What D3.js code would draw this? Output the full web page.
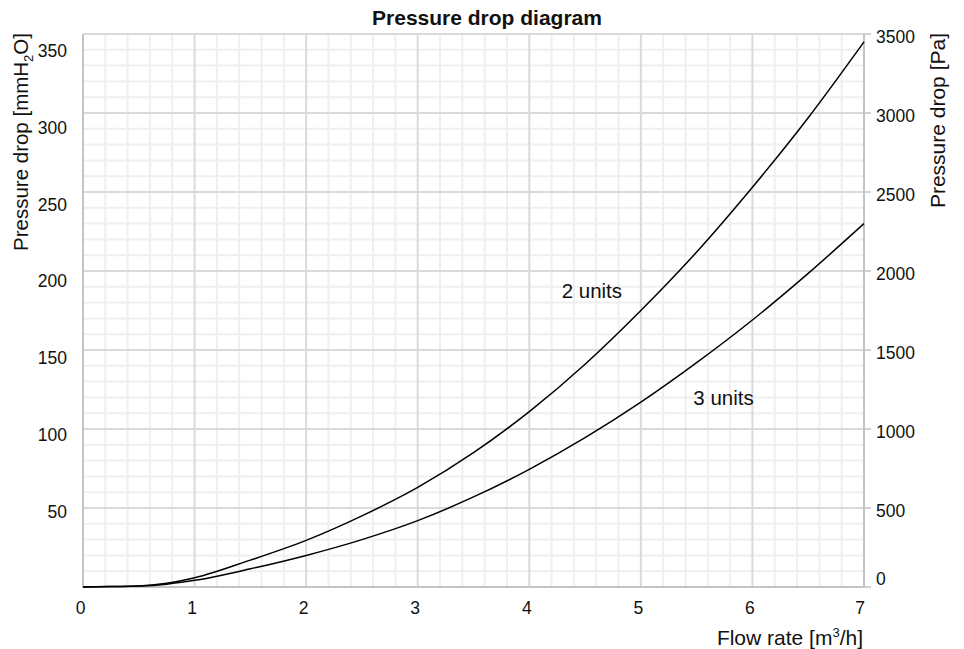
<!DOCTYPE html>
<html>
<head>
<meta charset="utf-8">
<script src="https://cdn.jsdelivr.net/npm/d3@7"></script>
<style>
  body { margin: 0; background: #fff; }
  text { font-family: "Liberation Sans", Arial, sans-serif; fill: #111; }
</style>
</head>
<body>
<svg id="chart" width="964" height="649"></svg>
<script>
// flow rate [m3/h]
const flow = [0, 0.25, 0.5, 0.75, 1, 1.5, 2, 2.5, 3, 3.5, 4, 4.5, 5, 5.5, 6, 6.5, 7];
// pressure drop [mmH2O]
const twoUnits = [0, 0.3, 0.6, 2.3, 5.8, 17, 29.5, 45, 63, 85, 111, 141, 175, 212, 253, 297, 345];
const threeUnits = [0, 0.3, 0.6, 1.8, 4.2, 11.5, 20, 30, 42, 57, 74.5, 94.5, 117, 142, 169, 198.5, 230];

const xTicks = [0, 1, 2, 3, 4, 5, 6, 7];
const mmTicks = [50, 100, 150, 200, 250, 300, 350];
const paTicks = [0, 500, 1000, 1500, 2000, 2500, 3000, 3500];

const seriesLabels = [
  { name: "2 units", x: 4.29, y: 183 },
  { name: "3 units", x: 5.47, y: 115.5 }
];

const svg = d3.select("#chart");

const x = d3.scaleLinear().domain([0, 7]).range([83, 864]);
const y = d3.scaleLinear().domain([0, 350]).range([587, 34]);
const yPa = d3.scaleLinear().domain([0, 3500]).range([587, 34]);
// the left labels sit a bit off their gridlines in the original
const yLabel = d3.scaleLinear().domain([0, 350]).range([588.5, 50.7]);

// grid: minor every 0.2 m3/h and 10 mmH2O, major every 1 and 50
const grid = svg.append("g");
grid.selectAll(".vminor")
  .data(d3.range(0, 7.01, 0.2).filter(v => Math.abs(v - Math.round(v)) > 0.01))
  .enter().append("line")
  .attr("x1", d => x(d)).attr("x2", d => x(d))
  .attr("y1", y(0)).attr("y2", y(350))
  .attr("stroke", "#efefef").attr("stroke-width", 2);
grid.selectAll(".hminor")
  .data(d3.range(10, 350, 10).filter(v => v % 50 !== 0))
  .enter().append("line")
  .attr("x1", x(0)).attr("x2", x(7))
  .attr("y1", d => y(d)).attr("y2", d => y(d))
  .attr("stroke", "#efefef").attr("stroke-width", 2);
grid.selectAll(".vmajor")
  .data(xTicks.slice(1, -1))
  .enter().append("line")
  .attr("x1", d => x(d)).attr("x2", d => x(d))
  .attr("y1", y(0)).attr("y2", y(350))
  .attr("stroke", "#dadada").attr("stroke-width", 2);
grid.selectAll(".hmajor")
  .data(mmTicks)
  .enter().append("line")
  .attr("x1", x(0)).attr("x2", x(7))
  .attr("y1", d => y(d)).attr("y2", d => y(d))
  .attr("stroke", "#dadada").attr("stroke-width", 2);

// axis lines
const axisColor = "#c4c4c4";
svg.append("line").attr("x1", x(0)).attr("x2", x(0)).attr("y1", y(0)).attr("y2", y(350))
  .attr("stroke", axisColor).attr("stroke-width", 2);
svg.append("line").attr("x1", x(7)).attr("x2", x(7)).attr("y1", y(0)).attr("y2", y(350))
  .attr("stroke", axisColor).attr("stroke-width", 2);
svg.append("line").attr("x1", x(0) - 1).attr("x2", x(7) + 1).attr("y1", y(0)).attr("y2", y(0))
  .attr("stroke", axisColor).attr("stroke-width", 2);

// right axis ticks
svg.selectAll(".rtick")
  .data(paTicks)
  .enter().append("line")
  .attr("x1", x(7)).attr("x2", x(7) + 7)
  .attr("y1", d => yPa(d)).attr("y2", d => yPa(d))
  .attr("stroke", axisColor).attr("stroke-width", 1.5);

// tick labels
svg.selectAll(".ltick")
  .data(mmTicks)
  .enter().append("text")
  .attr("x", 67).attr("y", d => yLabel(d)).attr("dy", "0.36em")
  .attr("text-anchor", "end").attr("font-size", "17.5px")
  .text(d => d);
svg.selectAll(".rlabel")
  .data(paTicks)
  .enter().append("text")
  .attr("x", 876).attr("y", d => d === 0 ? yPa(d) - 8.7 : yPa(d) + 2.7).attr("dy", "0.36em")
  .attr("font-size", "17.5px")
  .text(d => d);
svg.selectAll(".xlabel")
  .data(xTicks)
  .enter().append("text")
  .attr("x", d => x(d) - 2.5 - (d === 7 ? 1.5 : 0)).attr("y", 614)
  .attr("text-anchor", "middle").attr("font-size", "17.5px")
  .text(d => d);

// curves
const line = d3.line()
  .x((d, i) => x(flow[i]))
  .y(d => y(d))
  .curve(d3.curveMonotoneX);
[twoUnits, threeUnits].forEach(s => {
  svg.append("path")
    .attr("d", line(s))
    .attr("fill", "none")
    .attr("stroke", "#000")
    .attr("stroke-width", 1.5);
});

svg.selectAll(".slabel")
  .data(seriesLabels)
  .enter().append("text")
  .attr("x", d => x(d.x)).attr("y", d => y(d.y))
  .attr("font-size", "20.5px")
  .text(d => d.name);

// titles
svg.append("text")
  .attr("x", 487).attr("y", 25)
  .attr("text-anchor", "middle")
  .attr("font-size", "21px").attr("font-weight", "bold")
  .text("Pressure drop diagram");

const xTitle = svg.append("text")
  .attr("x", 863).attr("y", 645)
  .attr("text-anchor", "end").attr("font-size", "21px");
xTitle.append("tspan").text("Flow rate [m");
xTitle.append("tspan").attr("font-size", "13px").attr("dy", "-8").text("3");
xTitle.append("tspan").attr("dy", "8").text("/h]");

const yTitle = svg.append("text")
  .attr("transform", "translate(28,33) rotate(-90)")
  .attr("text-anchor", "end").attr("font-size", "20.5px");
yTitle.append("tspan").text("Pressure drop [mmH");
yTitle.append("tspan").attr("font-size", "13px").attr("dy", "5").text("2");
yTitle.append("tspan").attr("dy", "-5").text("O]");

svg.append("text")
  .attr("transform", "translate(945,33) rotate(-90)")
  .attr("text-anchor", "end").attr("font-size", "21px")
  .text("Pressure drop [Pa]");
</script>
</body>
</html>
